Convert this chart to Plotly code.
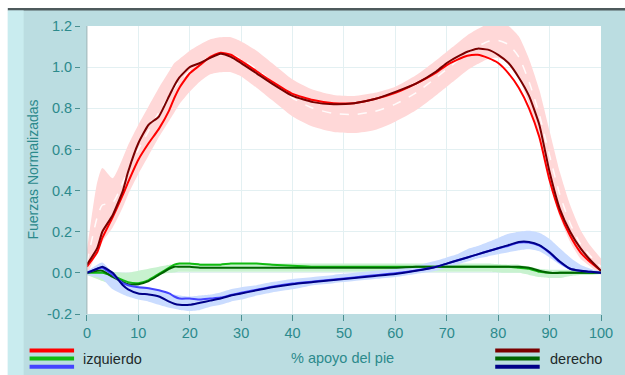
import plotly.graph_objects as go

# % of stance phase
apoyo = [0, 2, 3, 5, 7, 8, 10, 12, 14, 16, 17, 18, 20, 22, 24, 26, 28, 30, 33, 36,
         40, 44, 48, 52, 56, 60, 64, 68, 70, 72, 74, 76, 78, 80, 82, 84, 86, 88, 90,
         92, 94, 96, 98, 100]

# vertical force
vert_izq = [0.03, 0.10, 0.17, 0.27, 0.38, 0.44, 0.55, 0.63, 0.70, 0.79, 0.85, 0.90, 0.97, 1.01,
            1.05, 1.07, 1.06, 1.03, 0.98, 0.93, 0.87, 0.84, 0.825, 0.825, 0.845, 0.875, 0.92,
            0.975, 1.01, 1.035, 1.055, 1.06, 1.045, 1.02, 0.97, 0.90, 0.80, 0.66, 0.45, 0.29,
            0.18, 0.10, 0.05, 0.01]
vert_der = [0.04, 0.12, 0.20, 0.28, 0.40, 0.49, 0.63, 0.72, 0.76, 0.86, 0.91, 0.95, 1.00, 1.02,
            1.045, 1.065, 1.05, 1.02, 0.97, 0.92, 0.86, 0.83, 0.82, 0.825, 0.845, 0.88, 0.92,
            0.98, 1.02, 1.05, 1.075, 1.09, 1.085, 1.06, 1.02, 0.95, 0.86, 0.72, 0.49, 0.31,
            0.20, 0.12, 0.06, 0.01]
vert_norma = [0.05, 0.27, 0.33, 0.34, 0.44, 0.50, 0.60, 0.69, 0.78, 0.86, 0.90, 0.93, 0.98, 1.02,
              1.05, 1.06, 1.06, 1.04, 0.99, 0.93, 0.85, 0.80, 0.775, 0.77, 0.785, 0.82, 0.875,
              0.95, 0.99, 1.03, 1.07, 1.10, 1.125, 1.13, 1.11, 1.05, 0.93, 0.77, 0.57, 0.38,
              0.24, 0.14, 0.08, 0.03]
vert_de = [0.06, 0.17, 0.18, 0.12, 0.12, 0.12, 0.12, 0.12, 0.12, 0.12, 0.12, 0.11, 0.10, 0.09,
           0.085, 0.085, 0.085, 0.085, 0.09, 0.09, 0.09, 0.09, 0.09, 0.09, 0.09, 0.085, 0.085,
           0.085, 0.085, 0.085, 0.085, 0.085, 0.085, 0.085, 0.09, 0.10, 0.11, 0.12, 0.12, 0.11,
           0.09, 0.07, 0.05, 0.04]

# antero-posterior force
ap_izq = [0.0, 0.0, 0.0, -0.015, -0.035, -0.045, -0.05, -0.035, -0.005, 0.025, 0.04, 0.045,
          0.045, 0.04, 0.04, 0.04, 0.045, 0.045, 0.045, 0.04, 0.035, 0.03, 0.03, 0.03, 0.03,
          0.03, 0.03, 0.03, 0.03, 0.03, 0.03, 0.03, 0.03, 0.03, 0.03, 0.025, 0.02, 0.005, 0.0,
          0.0, 0.0, 0.0, 0.0, 0.0]
ap_der = [0.0, 0.01, 0.01, -0.02, -0.045, -0.055, -0.055, -0.04, -0.01, 0.02, 0.03, 0.03,
          0.03, 0.025, 0.025, 0.025, 0.025, 0.025, 0.025, 0.025, 0.025, 0.025, 0.025, 0.025,
          0.025, 0.025, 0.03, 0.03, 0.03, 0.03, 0.03, 0.03, 0.03, 0.03, 0.03, 0.03, 0.025, 0.01,
          0.0, 0.0, 0.0, 0.0, 0.0, 0.0]
ap_norma = [0.0, -0.01, -0.015, -0.025, -0.03, -0.03, -0.02, -0.005, 0.01, 0.02, 0.022, 0.025,
            0.025, 0.025, 0.025, 0.025, 0.025, 0.025, 0.025, 0.025, 0.025, 0.025, 0.025, 0.025,
            0.025, 0.025, 0.025, 0.025, 0.025, 0.025, 0.025, 0.025, 0.025, 0.022, 0.02, 0.02,
            0.01, 0.0, -0.005, -0.005, 0.0, 0.0, 0.0, 0.0]
ap_de = [0.01, 0.02, 0.025, 0.03, 0.03, 0.03, 0.03, 0.025, 0.02, 0.02, 0.02, 0.02, 0.02, 0.02,
         0.02, 0.02, 0.02, 0.02, 0.02, 0.02, 0.02, 0.02, 0.02, 0.02, 0.02, 0.02, 0.02, 0.02,
         0.02, 0.02, 0.02, 0.02, 0.02, 0.02, 0.02, 0.02, 0.02, 0.02, 0.02, 0.02, 0.015, 0.01,
         0.01, 0.005]

# medio-lateral force
ml_izq = [0.0, 0.02, 0.025, -0.01, -0.05, -0.06, -0.07, -0.075, -0.085, -0.10, -0.115, -0.125,
          -0.125, -0.13, -0.125, -0.12, -0.108, -0.097, -0.082, -0.067, -0.052, -0.042, -0.032,
          -0.022, -0.012, -0.002, 0.012, 0.03, 0.045, 0.06, 0.075, 0.09, 0.105, 0.12, 0.132,
          0.147, 0.147, 0.132, 0.097, 0.052, 0.02, 0.01, 0.005, 0.0]
ml_der = [0.0, 0.02, 0.03, 0.0, -0.06, -0.08, -0.10, -0.105, -0.115, -0.14, -0.15, -0.155,
          -0.155, -0.145, -0.135, -0.125, -0.11, -0.10, -0.085, -0.07, -0.055, -0.045, -0.035,
          -0.025, -0.015, -0.005, 0.01, 0.03, 0.045, 0.06, 0.075, 0.09, 0.105, 0.12, 0.135,
          0.15, 0.15, 0.135, 0.10, 0.055, 0.02, 0.01, 0.005, 0.0]
ml_norma = [0.0, 0.01, 0.01, -0.04, -0.07, -0.08, -0.095, -0.105, -0.12, -0.135, -0.14, -0.145,
            -0.15, -0.145, -0.135, -0.125, -0.11, -0.10, -0.085, -0.07, -0.055, -0.04, -0.03,
            -0.02, -0.01, 0.0, 0.015, 0.035, 0.05, 0.065, 0.085, 0.10, 0.115, 0.13, 0.145,
            0.155, 0.16, 0.15, 0.12, 0.08, 0.045, 0.02, 0.01, 0.0]
ml_de = [0.01, 0.03, 0.04, 0.04, 0.035, 0.035, 0.035, 0.035, 0.035, 0.035, 0.035, 0.035, 0.035,
         0.035, 0.03, 0.03, 0.03, 0.03, 0.025, 0.025, 0.025, 0.02, 0.02, 0.02, 0.02, 0.02, 0.02,
         0.025, 0.025, 0.025, 0.03, 0.03, 0.035, 0.04, 0.045, 0.045, 0.045, 0.045, 0.045, 0.04,
         0.03, 0.02, 0.01, 0.005]

y_ticks = [-0.2, 0.0, 0.2, 0.4, 0.6, 0.8, 1.0, 1.2]
x_ticks = [0, 10, 20, 30, 40, 50, 60, 70, 80, 90, 100]

TEAL = "#2c8a8c"
FONT = "Liberation Sans, Arial, sans-serif"

fig = go.Figure()


def add_band(mean, sd, color):
    upper = [m + s for m, s in zip(mean, sd)]
    lower = [m - s for m, s in zip(mean, sd)]
    fig.add_trace(go.Scatter(x=apoyo, y=upper, mode="lines", line=dict(width=0, shape="spline", smoothing=0.6),
                             hoverinfo="skip", showlegend=False))
    fig.add_trace(go.Scatter(x=apoyo, y=lower, mode="lines", line=dict(width=0, shape="spline", smoothing=0.6),
                             fill="tonexty", fillcolor=color, hoverinfo="skip", showlegend=False))


add_band(vert_norma, vert_de, "#ffd8d8")
add_band(ap_norma, ap_de, "#c8f2cf")
add_band(ml_norma, ml_de, "#cadcff")

# mean of the normative band
fig.add_trace(go.Scatter(x=apoyo, y=vert_norma, mode="lines",
                         line=dict(color="rgba(255,255,255,0.9)", width=1.5, dash="dash", shape="spline", smoothing=0.6),
                         hoverinfo="skip", showlegend=False))


def add_line(y, color):
    fig.add_trace(go.Scatter(x=apoyo, y=y, mode="lines",
                             line=dict(color=color, width=2, shape="spline", smoothing=0.5),
                             showlegend=False))


add_line(vert_izq, "#ff0000")
add_line(vert_der, "#7a0000")
add_line(ap_izq, "#11bb11")
add_line(ap_der, "#006400")
add_line(ml_izq, "#4444ff")
add_line(ml_der, "#000088")

# pixel -> paper helpers (plot area spans x 80..607, y 26..314)
def px(v):
    return (v - 80) / 527


def py(v):
    return (314 - v) / 288


shapes = [
    # window frame
    dict(type="rect", xref="paper", yref="paper", x0=px(-5), x1=px(640), y0=py(8), y1=py(-5),
         fillcolor="#ffffff", line=dict(width=0), layer="below"),
    dict(type="rect", xref="paper", yref="paper", x0=px(-5), x1=px(7), y0=py(380), y1=py(-5),
         fillcolor="#ffffff", line=dict(width=0), layer="below"),
    dict(type="rect", xref="paper", yref="paper", x0=px(7), x1=px(640), y0=py(10.5), y1=py(8),
         fillcolor="#4e5a5c", line=dict(width=0), layer="below"),
    dict(type="rect", xref="paper", yref="paper", x0=px(7), x1=px(23), y0=py(380), y1=py(10.5),
         fillcolor="#c9ecef", line=dict(width=0), layer="below"),
    # plot area left edge
    dict(type="line", xref="paper", yref="paper", x0=px(87), x1=px(87), y0=0, y1=1,
         line=dict(color="#9db3b5", width=1)),
]

# legend swatches
izq_colors = ["#ff0000", "#11bb11", "#4444ff"]
der_colors = ["#7a0000", "#006400", "#000088"]
legend_y = [350.5, 358.6, 366.7]
for c, yy in zip(izq_colors, legend_y):
    shapes.append(dict(type="line", xref="paper", yref="paper", x0=px(29), x1=px(74),
                       y0=py(yy), y1=py(yy), line=dict(color=c, width=4)))
for c, yy in zip(der_colors, legend_y):
    shapes.append(dict(type="line", xref="paper", yref="paper", x0=px(500), x1=px(545),
                       y0=py(yy), y1=py(yy), line=dict(color=c, width=4)))

annotations = [
    dict(text="izquierdo", xref="paper", yref="paper", x=px(81), y=py(358.5), xanchor="left",
         yanchor="middle", showarrow=False, font=dict(family=FONT, size=14.5, color="#1e2a2a")),
    dict(text="derecho", xref="paper", yref="paper", x=px(553), y=py(358.5), xanchor="left",
         yanchor="middle", showarrow=False, font=dict(family=FONT, size=14.5, color="#1e2a2a")),
    dict(text="% apoyo del pie", xref="paper", yref="paper", x=px(346), y=py(358), xanchor="center",
         yanchor="middle", showarrow=False, font=dict(family=FONT, size=14.5, color=TEAL)),
    dict(text="Fuerzas Normalizadas", xref="paper", yref="paper", x=px(32), y=py(170),
         xanchor="center", yanchor="middle", textangle=-90, showarrow=False,
         font=dict(family=FONT, size=14, color=TEAL)),
]

fig.update_layout(
    width=625, height=375,
    margin=dict(l=80, r=18, t=26, b=61, pad=0),
    paper_bgcolor="#bbdde1",
    plot_bgcolor="#ffffff",
    showlegend=False,
    shapes=shapes,
    annotations=annotations,
    xaxis=dict(domain=[7 / 527, 1], range=[0, 100], tickvals=x_ticks, ticks="outside", ticklen=6,
               tickcolor="#4a8f91", tickfont=dict(family=FONT, size=14.5, color=TEAL),
               showgrid=True, gridcolor="#e3f0f2", gridwidth=1, zeroline=False, showline=False),
    yaxis=dict(anchor="free", position=0, range=[-0.2, 1.2], tickvals=y_ticks,
               ticktext=[f"{v:.1f}" for v in y_ticks], ticks="outside", ticklen=5,
               tickcolor="#4a8f91", tickfont=dict(family=FONT, size=14.5, color=TEAL),
               showgrid=True, gridcolor="#e3f0f2", gridwidth=1, zeroline=False, showline=False),
)

fig.write_html("out.html", config={"displayModeBar": False})
